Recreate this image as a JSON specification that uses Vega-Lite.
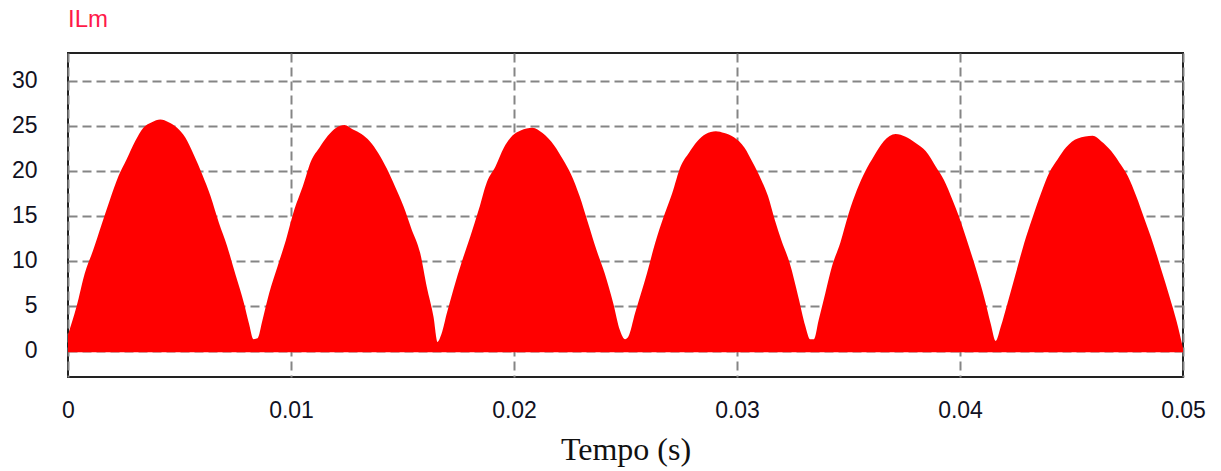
{
  "$schema": "https://vega.github.io/schema/vega-lite/v6.json",
  "autosize": "none",
  "width": 1115,
  "height": 324,
  "padding": {"left": 68, "top": 53, "right": 38, "bottom": 94},
  "background": "white",
  "title": {
    "text": "ILm",
    "anchor": "start",
    "frame": "group",
    "color": "#ff1a4a",
    "font": "Liberation Sans",
    "fontSize": 24,
    "fontWeight": "normal",
    "baseline": "alphabetic",
    "offset": 2
  },
  "config": {
    "view": {"stroke": "#222222", "strokeWidth": 2},
    "axis": {
      "grid": true,
      "gridColor": "#858585",
      "gridDash": [9, 5],
      "gridWidth": 2,
      "gridOpacity": 1,
      "domain": false,
      "ticks": false,
      "labelFont": "Liberation Sans",
      "labelFontSize": 23,
      "labelColor": "#111122"
    }
  },
  "data": {
    "values": [
      {"t": 0, "i": 1.8},
      {"t": 0.00038, "i": 4.9},
      {"t": 0.00075, "i": 8.6},
      {"t": 0.00113, "i": 11.2},
      {"t": 0.0015, "i": 14.0},
      {"t": 0.00188, "i": 16.8},
      {"t": 0.00226, "i": 19.4},
      {"t": 0.00263, "i": 21.3},
      {"t": 0.00301, "i": 23.3},
      {"t": 0.00338, "i": 24.8},
      {"t": 0.00376, "i": 25.4},
      {"t": 0.00414, "i": 25.7},
      {"t": 0.00451, "i": 25.4},
      {"t": 0.00489, "i": 24.8},
      {"t": 0.00526, "i": 23.7},
      {"t": 0.00564, "i": 21.8},
      {"t": 0.00602, "i": 19.6},
      {"t": 0.00639, "i": 17.2},
      {"t": 0.00677, "i": 14.2},
      {"t": 0.00714, "i": 11.6},
      {"t": 0.00752, "i": 8.4},
      {"t": 0.00789, "i": 5.3},
      {"t": 0.00812, "i": 3.0},
      {"t": 0.00832, "i": 1.3},
      {"t": 0.0085, "i": 1.4},
      {"t": 0.00872, "i": 3.4},
      {"t": 0.00902, "i": 6.4},
      {"t": 0.0094, "i": 9.4},
      {"t": 0.00977, "i": 12.3},
      {"t": 0.01015, "i": 15.7},
      {"t": 0.01053, "i": 18.3},
      {"t": 0.0109, "i": 21.1},
      {"t": 0.01128, "i": 22.6},
      {"t": 0.01165, "i": 23.9},
      {"t": 0.01203, "i": 24.8},
      {"t": 0.0124, "i": 25.1},
      {"t": 0.01278, "i": 24.6},
      {"t": 0.01316, "i": 24.1},
      {"t": 0.01353, "i": 23.3},
      {"t": 0.01391, "i": 22.0},
      {"t": 0.01429, "i": 20.3},
      {"t": 0.01466, "i": 18.3},
      {"t": 0.01504, "i": 16.1},
      {"t": 0.01541, "i": 13.5},
      {"t": 0.01579, "i": 10.9},
      {"t": 0.01609, "i": 7.1},
      {"t": 0.01639, "i": 3.8},
      {"t": 0.01657, "i": 1.0},
      {"t": 0.01675, "i": 1.9},
      {"t": 0.01699, "i": 4.2},
      {"t": 0.01728, "i": 6.8},
      {"t": 0.01766, "i": 9.9},
      {"t": 0.01804, "i": 12.7},
      {"t": 0.01842, "i": 15.7},
      {"t": 0.01879, "i": 18.8},
      {"t": 0.01917, "i": 20.5},
      {"t": 0.01955, "i": 22.6},
      {"t": 0.01992, "i": 23.9},
      {"t": 0.0203, "i": 24.5},
      {"t": 0.02083, "i": 24.8},
      {"t": 0.02128, "i": 24.2},
      {"t": 0.02181, "i": 22.8},
      {"t": 0.02219, "i": 21.3},
      {"t": 0.02256, "i": 19.6},
      {"t": 0.02294, "i": 17.2},
      {"t": 0.02332, "i": 14.2},
      {"t": 0.0237, "i": 11.2},
      {"t": 0.02407, "i": 8.6},
      {"t": 0.02445, "i": 5.3},
      {"t": 0.02475, "i": 2.3},
      {"t": 0.02498, "i": 1.3},
      {"t": 0.02513, "i": 1.6},
      {"t": 0.02543, "i": 4.2},
      {"t": 0.02596, "i": 8.6},
      {"t": 0.02633, "i": 12.0},
      {"t": 0.02671, "i": 14.9},
      {"t": 0.02709, "i": 17.5},
      {"t": 0.02747, "i": 20.5},
      {"t": 0.02784, "i": 22.0},
      {"t": 0.02822, "i": 23.3},
      {"t": 0.0286, "i": 24.1},
      {"t": 0.02905, "i": 24.4},
      {"t": 0.02943, "i": 24.2},
      {"t": 0.02988, "i": 23.7},
      {"t": 0.03033, "i": 22.6},
      {"t": 0.03071, "i": 20.9},
      {"t": 0.03109, "i": 19.0},
      {"t": 0.03139, "i": 17.2},
      {"t": 0.03169, "i": 14.6},
      {"t": 0.03199, "i": 12.3},
      {"t": 0.03237, "i": 9.7},
      {"t": 0.03275, "i": 6.0},
      {"t": 0.03306, "i": 2.8},
      {"t": 0.03328, "i": 1.3},
      {"t": 0.03345, "i": 1.3},
      {"t": 0.03366, "i": 3.4},
      {"t": 0.03396, "i": 6.4},
      {"t": 0.03426, "i": 9.4},
      {"t": 0.03463, "i": 12.0},
      {"t": 0.03501, "i": 15.3},
      {"t": 0.03538, "i": 17.9},
      {"t": 0.03576, "i": 20.0},
      {"t": 0.03613, "i": 21.6},
      {"t": 0.03658, "i": 23.3},
      {"t": 0.03711, "i": 24.1},
      {"t": 0.03756, "i": 23.8},
      {"t": 0.03801, "i": 23.1},
      {"t": 0.03846, "i": 22.2},
      {"t": 0.03891, "i": 20.5},
      {"t": 0.03928, "i": 19.0},
      {"t": 0.03966, "i": 16.8},
      {"t": 0.04, "i": 14.6},
      {"t": 0.0404, "i": 11.6},
      {"t": 0.04078, "i": 8.6},
      {"t": 0.04108, "i": 6.0},
      {"t": 0.04138, "i": 3.0},
      {"t": 0.0416, "i": 1.1},
      {"t": 0.04183, "i": 2.7},
      {"t": 0.04213, "i": 5.3},
      {"t": 0.0425, "i": 8.6},
      {"t": 0.04288, "i": 12.0},
      {"t": 0.04325, "i": 14.8},
      {"t": 0.04363, "i": 17.5},
      {"t": 0.044, "i": 19.8},
      {"t": 0.04438, "i": 21.3},
      {"t": 0.04475, "i": 22.6},
      {"t": 0.04528, "i": 23.6},
      {"t": 0.04595, "i": 23.9},
      {"t": 0.04633, "i": 23.3},
      {"t": 0.04678, "i": 22.2},
      {"t": 0.04715, "i": 20.9},
      {"t": 0.04753, "i": 19.4},
      {"t": 0.0479, "i": 17.2},
      {"t": 0.04828, "i": 14.6},
      {"t": 0.04865, "i": 12.0},
      {"t": 0.04903, "i": 9.0},
      {"t": 0.0494, "i": 6.0},
      {"t": 0.0497, "i": 3.4},
      {"t": 0.05, "i": 0.3}
    ]
  },
  "mark": {"type": "area", "color": "#ff0000", "clip": true, "interpolate": "monotone"},
  "encoding": {
    "x": {
      "field": "t",
      "type": "quantitative",
      "scale": {"domain": [0, 0.05], "nice": false, "zero": false},
      "axis": {
        "values": [0, 0.01, 0.02, 0.03, 0.04, 0.05],
        "format": "~g",
        "labelFlush": false,
        "labelPadding": 22,
        "title": "Tempo (s)",
        "titleFont": "Liberation Serif",
        "titleFontSize": 32,
        "titleFontWeight": "normal",
        "titleColor": "#111111",
        "titlePadding": 12
      }
    },
    "y": {
      "field": "i",
      "type": "quantitative",
      "scale": {"domain": [-2.9, 33.1], "nice": false, "zero": false},
      "axis": {
        "values": [0, 5, 10, 15, 20, 25, 30],
        "labelPadding": 31,
        "title": null
      }
    },
    "y2": {"datum": -0.15}
  }
}
